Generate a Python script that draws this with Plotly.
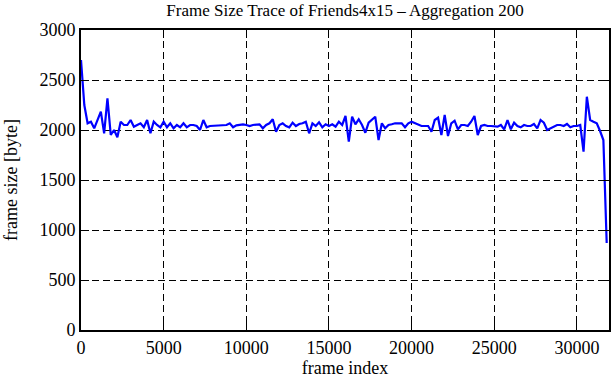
import plotly.graph_objects as go

# Aggregated frame sizes (one value per 200 frames)
aggregation = 200
frame_sizes = [
    2700, 2250, 2067, 2083, 2017, 2100, 2183, 1967, 2317, 1950,
    2000, 1927, 2083, 2050, 2050, 2100, 2033, 2050, 2067, 2027,
    2100, 1967, 2083, 2050, 2027, 2083, 2027, 2067, 2017, 2050,
    2027, 2067, 2027, 2050, 2050, 2040, 2000, 2100, 2027, 2040,
    2043, 2043, 2047, 2047, 2050, 2067, 2027, 2047, 2050, 2057,
    2050, 2040, 2050, 2057, 2057, 2017, 2050, 2067, 2107, 1983,
    2050, 2067, 2040, 2027, 2073, 2040, 2060, 2067, 2083, 1967,
    2067, 2040, 2077, 2027, 2057, 2040, 2057, 2033, 2083, 2050,
    2140, 1883, 2133, 2057, 2107, 2050, 1973, 2073, 2107, 2133,
    1900, 2067, 2017, 2050, 2057, 2067, 2067, 2067, 2027, 2067,
    2083, 2067, 2050, 2040, 2040, 2040, 1983, 2100, 2123, 1950,
    2150, 1940, 2067, 2093, 2007, 2050, 2050, 2040, 2083, 2140,
    1950, 2040, 2050, 2040, 2040, 2040, 2033, 2050, 2007, 2100,
    2007, 2073, 2040, 2027, 2050, 2040, 2040, 2060, 2017, 2100,
    2073, 2000, 2017, 2040, 2050, 2050, 2040, 2060, 2027, 2040,
    2040, 2050, 1783, 2333, 2100, 2083, 2067, 1990, 1900, 870,
]
frame_index = [i * aggregation for i in range(len(frame_sizes))]

x_ticks = [0, 5000, 10000, 15000, 20000, 25000, 30000]
y_ticks = [0, 500, 1000, 1500, 2000, 2500, 3000]

title_text = "Frame Size Trace of Friends4x15 \u2013 Aggregation 200"
x_title = "frame index"
y_title = "frame size [byte]"

FONT = "Liberation Serif"
W, H = 611, 380
ML, MR, MT, MB = 81, 2, 30, 50

fig = go.Figure()
fig.add_trace(go.Scatter(
    x=frame_index, y=frame_sizes, mode="lines",
    line=dict(color="#0000ff", width=2.2),
    showlegend=False, hoverinfo="skip",
))

axis_common = dict(
    showline=True, linecolor="black", linewidth=2, mirror="allticks",
    ticks="inside", ticklen=8, tickwidth=1, tickcolor="black",
    showgrid=True, gridcolor="black", gridwidth=1, griddash="7px,4px",
    zeroline=False, automargin=False,
    tickfont=dict(family=FONT, size=18, color="black"),
)

fig.update_layout(
    width=W, height=H,
    margin=dict(l=ML, r=MR, t=MT, b=MB, autoexpand=False),
    paper_bgcolor="white", plot_bgcolor="white",
    title=dict(text=title_text, x=0.5, xref="paper", xanchor="center",
               y=0.99, yref="container", yanchor="top",
               font=dict(family=FONT, size=17, color="black")),
    xaxis=dict(range=[0, 31940], tickvals=x_ticks,
               ticktext=[str(v) for v in x_ticks],
               title=dict(text=x_title, standoff=4,
                          font=dict(family=FONT, size=18, color="black")),
               **axis_common),
    yaxis=dict(range=[0, 3000], tickvals=y_ticks,
               ticktext=[str(v) for v in y_ticks],
               **axis_common),
    annotations=[dict(
        text=y_title, textangle=-90, showarrow=False,
        xref="paper", yref="paper",
        x=-(ML - 11) / (W - ML - MR), y=0.5,
        xanchor="center", yanchor="middle",
        font=dict(family=FONT, size=18, color="black"),
    )],
)

fig.write_html(
    "out.html",
    config={"displayModeBar": False},
    post_script="document.body.style.margin='0';document.body.style.padding='0';",
)
